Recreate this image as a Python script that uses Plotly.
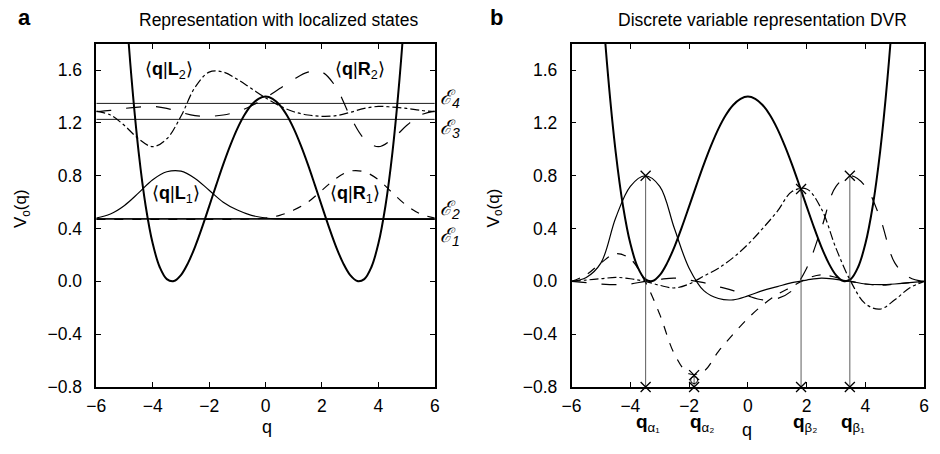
import plotly.graph_objects as go

# ---------------- data ----------------
q = [-6.0, -5.5, -5.0, -4.5, -4.0, -3.5, -3.0, -2.5, -2.0, -1.5, -1.0, -0.5, 0.0,
     0.5, 1.0, 1.5, 2.0, 2.5, 3.0, 3.5, 4.0, 4.5, 5.0, 5.5, 6.0]

# double-well potential V0(q)
q_pot = [-5.5, -5.25, -5.0, -4.75, -4.5, -4.25, -4.0, -3.75, -3.5, -3.25, -3.0, -2.75,
         -2.5, -2.25, -2.0, -1.75, -1.5, -1.25, -1.0, -0.75, -0.5, -0.25, 0.0,
         0.25, 0.5, 0.75, 1.0, 1.25, 1.5, 1.75, 2.0, 2.25, 2.5, 2.75, 3.0, 3.25,
         3.5, 3.75, 4.0, 4.25, 4.5, 4.75, 5.0, 5.25, 5.5]
v_pot = [4.26, 3.15, 2.251, 1.535, 0.981, 0.571, 0.286, 0.107, 0.017, 0.002, 0.047, 0.138,
         0.262, 0.409, 0.568, 0.729, 0.886, 1.030, 1.157, 1.260, 1.336, 1.383, 1.400,
         1.383, 1.336, 1.260, 1.157, 1.030, 0.886, 0.729, 0.568, 0.409, 0.262, 0.138, 0.047, 0.002,
         0.017, 0.107, 0.286, 0.571, 0.981, 1.535, 2.251, 3.15, 4.26]

# panel a: energies and localized states
energies = [0.470, 0.476, 1.227, 1.348]          # E1, E2, E3, E4
energy_labels = ["ℰ<sub>1</sub>", "ℰ<sub>2</sub>", "ℰ<sub>3</sub>", "ℰ<sub>4</sub>"]

L1 = [0.48, 0.51, 0.575, 0.67, 0.77, 0.83, 0.835, 0.78, 0.69, 0.60, 0.54, 0.50, 0.48,
      0.473, 0.47, 0.47, 0.47, 0.47, 0.47, 0.47, 0.47, 0.47, 0.47, 0.47, 0.47]
R1 = [0.47, 0.47, 0.47, 0.47, 0.47, 0.47, 0.47, 0.47, 0.47, 0.47, 0.47, 0.473, 0.48,
      0.50, 0.54, 0.60, 0.69, 0.78, 0.835, 0.83, 0.77, 0.67, 0.575, 0.51, 0.48]
L2 = [1.29, 1.26, 1.18, 1.08, 1.02, 1.08, 1.25, 1.47, 1.585, 1.585, 1.53, 1.46, 1.39,
      1.33, 1.285, 1.26, 1.25, 1.255, 1.28, 1.31, 1.325, 1.32, 1.31, 1.295, 1.285]
R2 = [1.285, 1.295, 1.31, 1.32, 1.325, 1.31, 1.28, 1.255, 1.25, 1.26, 1.285, 1.33, 1.39,
      1.46, 1.53, 1.585, 1.585, 1.47, 1.25, 1.08, 1.02, 1.08, 1.18, 1.26, 1.29]

# panel b: DVR functions
psi_a1 = [0.0, 0.03, 0.14, 0.48, 0.72, 0.80, 0.72, 0.40, 0.10, -0.07, -0.13, -0.14, -0.11,
          -0.07, -0.04, -0.01, 0.01, 0.025, 0.015, 0.0, -0.02, -0.025, -0.02, -0.01, 0.0]
psi_b1 = [0.0, -0.01, -0.02, -0.025, -0.02, 0.0, 0.015, 0.025, 0.01, -0.01, -0.04, -0.07, -0.11,
          -0.14, -0.13, -0.07, 0.10, 0.40, 0.72, 0.80, 0.72, 0.48, 0.14, 0.03, 0.0]
psi_a2 = [0.0, 0.05, 0.14, 0.21, 0.17, 0.0, -0.25, -0.55, -0.70, -0.68, -0.53, -0.40, -0.28,
          -0.18, -0.10, -0.04, 0.02, 0.05, 0.03, 0.0, -0.02, -0.03, -0.02, -0.01, 0.0]
psi_b2 = [0.0, 0.01, 0.02, 0.03, 0.02, 0.0, -0.03, -0.05, -0.02, 0.04, 0.10, 0.18, 0.28,
          0.40, 0.53, 0.68, 0.70, 0.55, 0.25, 0.0, -0.17, -0.21, -0.14, -0.05, 0.0]

dvr_q = [-3.48, -1.83, 1.81, 3.47]
dvr_peak = [0.80, -0.71, 0.70, 0.80]
dvr_labels = ["<b>q</b><sub>α₁</sub>", "<b>q</b><sub>α₂</sub>", "<b>q</b><sub>β₂</sub>", "<b>q</b><sub>β₁</sub>"]
ring_v = [-0.748]

x_ticks = [-6, -4, -2, 0, 2, 4, 6]
y_ticks = [-0.8, -0.4, 0.0, 0.4, 0.8, 1.2, 1.6]
y_range = [-0.8, 1.8]

# ---------------- figure ----------------
W, H = 940, 454
FONT = "Liberation Sans, Arial, Helvetica, sans-serif"


def px(x):
    return x / W


def py(y):
    return 1 - y / H


fig = go.Figure()

thin = 1.2
thick = 2.0
xmark = dict(symbol="x-thin-open", size=10, color="black", line=dict(color="black", width=1.3))

# panel a
fig.add_trace(go.Scatter(x=q_pot, y=v_pot, mode="lines", line=dict(color="black", width=thick, shape="spline"),
                         xaxis="x", yaxis="y"))
for e in energies:
    fig.add_trace(go.Scatter(x=[x_ticks[0], x_ticks[-1]], y=[e, e], mode="lines",
                             line=dict(color="black", width=0.9), xaxis="x", yaxis="y"))
fig.add_trace(go.Scatter(x=q, y=L1, mode="lines", line=dict(color="black", width=thin, shape="spline"),
                         xaxis="x", yaxis="y"))
fig.add_trace(go.Scatter(x=q, y=R1, mode="lines", line=dict(color="black", width=thin, dash="dash", shape="spline"),
                         xaxis="x", yaxis="y"))
fig.add_trace(go.Scatter(x=q, y=L2, mode="lines", line=dict(color="black", width=thin, dash="dashdot", shape="spline"),
                         xaxis="x", yaxis="y"))
fig.add_trace(go.Scatter(x=q, y=R2, mode="lines", line=dict(color="black", width=thin, dash="longdash", shape="spline"),
                         xaxis="x", yaxis="y"))

# panel b
fig.add_trace(go.Scatter(x=q_pot, y=v_pot, mode="lines", line=dict(color="black", width=thick, shape="spline"),
                         xaxis="x2", yaxis="y2"))
fig.add_trace(go.Scatter(x=q, y=psi_a1, mode="lines", line=dict(color="black", width=thin, shape="spline"),
                         xaxis="x2", yaxis="y2"))
fig.add_trace(go.Scatter(x=q, y=psi_a2, mode="lines", line=dict(color="black", width=thin, dash="dash", shape="spline"),
                         xaxis="x2", yaxis="y2"))
fig.add_trace(go.Scatter(x=q, y=psi_b2, mode="lines", line=dict(color="black", width=thin, dash="dashdot", shape="spline"),
                         xaxis="x2", yaxis="y2"))
fig.add_trace(go.Scatter(x=q, y=psi_b1, mode="lines", line=dict(color="black", width=thin, dash="longdash", shape="spline"),
                         xaxis="x2", yaxis="y2"))
for xq, pk in zip(dvr_q, dvr_peak):
    fig.add_trace(go.Scatter(x=[xq, xq], y=[y_range[0], pk], mode="lines",
                             line=dict(color="#333333", width=0.8), xaxis="x2", yaxis="y2"))
fig.add_trace(go.Scatter(x=dvr_q, y=dvr_peak, mode="markers", marker=xmark, xaxis="x2", yaxis="y2"))
fig.add_trace(go.Scatter(x=dvr_q, y=[y_range[0]] * len(dvr_q), mode="markers", cliponaxis=False,
                         marker=xmark, xaxis="x2", yaxis="y2"))
fig.add_trace(go.Scatter(x=[dvr_q[1]], y=ring_v, mode="markers", cliponaxis=False,
                         marker=dict(symbol="circle-open", size=7, color="black",
                                     line=dict(color="black", width=1.0)),
                         xaxis="x2", yaxis="y2"))

ydom = [py(395.7), py(44.7)]
axis_common = dict(showline=True, linecolor="black", linewidth=1.6, mirror="ticks",
                   ticks="inside", ticklen=5, tickwidth=1.2, tickcolor="black",
                   showgrid=False, zeroline=False, tickfont=dict(family=FONT, size=17.5, color="black"))

fig.update_layout(
    width=W, height=H, margin=dict(l=0, r=0, t=0, b=0),
    paper_bgcolor="white", plot_bgcolor="white", showlegend=False,
    font=dict(family=FONT, color="black"),
    xaxis=dict(domain=[px(87.7), px(431.7)], range=[-6, 6], tickvals=x_ticks, anchor="y",
               ticklabelstandoff=2, **axis_common),
    yaxis=dict(domain=ydom, range=y_range, tickvals=y_ticks, tickformat=".1f", anchor="x",
               ticklabelstandoff=9, **axis_common),
    xaxis2=dict(domain=[px(570.7), px(929)], range=[-6, 6], tickvals=x_ticks, anchor="y2",
                ticklabelstandoff=2, **axis_common),
    yaxis2=dict(domain=ydom, range=y_range, tickvals=y_ticks, tickformat=".1f", anchor="x2",
                ticklabelstandoff=9, **axis_common),
)

ann = []


def add_text(x, y, text, size=17, xanchor="center", **kw):
    ann.append(dict(x=px(x), y=py(y), xref="paper", yref="paper", text=text, showarrow=False,
                    xanchor=xanchor, yanchor="middle",
                    font=dict(family=FONT, size=size, color="black"), **kw))


add_text(15, 18, "<b>a</b>", size=22)
add_text(494, 18, "<b>b</b>", size=22)
add_text(273, 20, "Representation with localized states", size=17.5)
add_text(765, 20, "Discrete variable representation DVR", size=17.5)
add_text(13, 213, "V<sub>o</sub>(q)", size=17, textangle=-90)
add_text(493, 213, "V<sub>o</sub>(q)", size=17, textangle=-90)
add_text(261, 437, "q", size=18)
add_text(749, 440, "q", size=18)

# localized-state labels
add_text(162, 72, "⟨<b>q</b>|<b>L</b><sub>2</sub>⟩", size=18)
add_text(356, 72, "⟨<b>q</b>|<b>R</b><sub>2</sub>⟩", size=18)
add_text(169, 199, "⟨<b>q</b>|<b>L</b><sub>1</sub>⟩", size=18)
add_text(351, 199, "⟨<b>q</b>|<b>R</b><sub>1</sub>⟩", size=18)

# energy labels
for lab, yy in zip(energy_labels, [242, 214, 131, 101]):
    add_text(435, yy, "<i>" + lab + "</i>", size=20, xanchor="left")

# DVR point labels
for lab, xx in zip(dvr_labels, [648, 703, 808, 857]):
    add_text(xx, 433, lab, size=19)

fig.update_layout(annotations=ann)
fig.write_html("out.html", config={"displayModeBar": False},
               post_script="document.body.style.margin='0px';")
